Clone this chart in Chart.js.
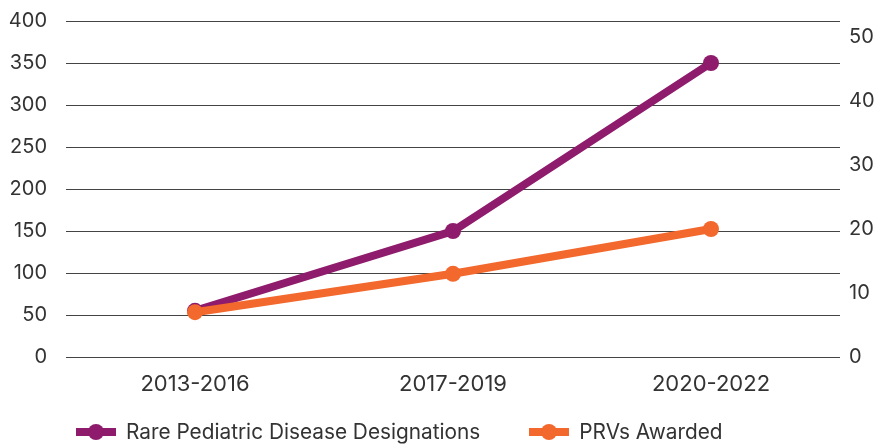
<!DOCTYPE html>
<html>
<head>
<meta charset="utf-8">
<script src="https://cdn.jsdelivr.net/npm/chart.js@4"></script>
<style>
  html, body { margin: 0; padding: 0; background: #fff; overflow: hidden; }
  #wrap { position: relative; width: 879px; height: 444px; }
  #legend {
    position: absolute; left: 76px; top: 420px; height: 24px;
    display: flex; align-items: center;
    font: 20.8px Inter, "Noto Sans", sans-serif; color: #333;
  }
  .item { display: flex; align-items: center; margin-right: 49px; line-height: 24px; white-space: nowrap; }
  .mark { position: relative; width: 40px; height: 16px; margin-right: 10px; }
  .mark::before { content: ""; position: absolute; left: 0; top: 4px; width: 40px; height: 8px; background: var(--c); }
  .mark::after { content: ""; position: absolute; left: 12px; top: 0; width: 16px; height: 16px; border-radius: 50%; background: var(--c); }
</style>
</head>
<body>
<div id="wrap">
  <canvas id="prvChart"></canvas>
  <div id="legend"></div>
</div>
<script>
const periods = ["2013-2016", "2017-2019", "2020-2022"];
const designations = [55, 150, 350];
const prvsAwarded = [7, 13, 20];
const leftTicks = [0, 50, 100, 150, 200, 250, 300, 350, 400];
const rightTicks = [0, 10, 20, 30, 40, 50];

const purple = '#8e1b6b';
const orange = '#f2682d';

Chart.defaults.font.family = 'Inter, "Noto Sans", sans-serif';
Chart.defaults.font.size = 20;
Chart.defaults.color = '#333';

const ctx = document.getElementById('prvChart').getContext('2d');

const prvChart = new Chart(ctx, {
    type: 'line',
    data: {
        labels: periods,
        datasets: [{
            label: 'Rare Pediatric Disease Designations',
            data: designations,
            borderColor: purple,
            backgroundColor: purple,
            pointBackgroundColor: purple,
            pointBorderWidth: 0,
            pointRadius: 8,
            borderWidth: 8,
            yAxisID: 'y',
            order: 1
        }, {
            label: 'PRVs Awarded',
            data: prvsAwarded,
            borderColor: orange,
            backgroundColor: orange,
            pointBackgroundColor: orange,
            pointBorderWidth: 0,
            pointRadius: 8,
            borderWidth: 8,
            yAxisID: 'y1',
            order: 0
        }]
    },
    options: {
        responsive: true,
        maintainAspectRatio: false,
        animation: false,
        layout: {
            padding: { left: 0, right: 0, top: 21, bottom: 0 }
        },
        plugins: {
            tooltip: { enabled: false },
            legend: { display: false }
        },
        scales: {
            x: {
                offset: true,
                grid: { display: false, drawTicks: false },
                border: { display: false },
                ticks: { padding: 14, color: '#333', font: { size: 22 } },
                afterFit: (scale) => { scale.height = 87; }
            },
            y: {
                position: 'left',
                min: 0,
                max: 400,
                afterBuildTicks: (scale) => { scale.ticks = leftTicks.map(v => ({ value: v })); },
                grid: { color: '#444', lineWidth: 1, drawTicks: false },
                border: { display: false },
                ticks: { padding: 19, color: '#333' },
                afterFit: (scale) => { scale.width = 66; scale.paddingTop = 0; scale.paddingBottom = 0; }
            },
            y1: {
                position: 'right',
                min: 0,
                max: 52.5,
                afterBuildTicks: (scale) => { scale.ticks = rightTicks.map(v => ({ value: v })); },
                grid: { display: false, drawTicks: false },
                border: { display: false },
                ticks: { padding: 9, color: '#333' },
                afterFit: (scale) => { scale.width = 39; scale.paddingTop = 0; scale.paddingBottom = 0; }
            }
        }
    }
});

// html legend built from the chart's datasets
const legendEl = document.getElementById('legend');
prvChart.data.datasets.forEach(ds => {
    const item = document.createElement('div');
    item.className = 'item';
    const mark = document.createElement('span');
    mark.className = 'mark';
    mark.style.setProperty('--c', ds.borderColor);
    item.appendChild(mark);
    item.appendChild(document.createTextNode(ds.label));
    legendEl.appendChild(item);
});
</script>
</body>
</html>
